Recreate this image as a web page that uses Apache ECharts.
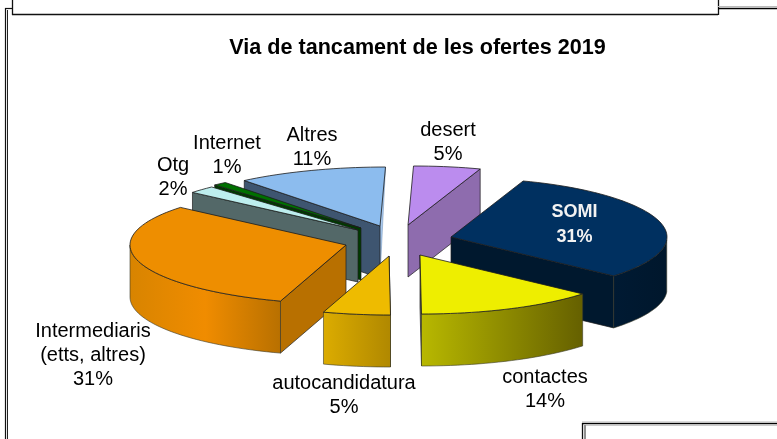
<!DOCTYPE html>
<html><head><meta charset="utf-8">
<style>html,body{margin:0;padding:0;background:#fff}#c{width:777px;height:439px}</style>
<script src="https://cdn.jsdelivr.net/npm/echarts@6/dist/echarts.min.js"></script>
</head><body><div id="c"></div>
<script>
// Data (clockwise from 12 o'clock)
const categories = ['desert','SOMI','contactes','autocandidatura','Intermediaris\n(etts, altres)','Otg','Internet','Altres'];
const shares = [5,31,14,5,31,2,1,11];

// Styling and layout, per slice
const apexes = [[408,225],[451,237],[420,255],[389,256],[346,245],[358,230],[361,228],[380,226]];
const topColors = ['#bb8cee','#003060','#eeee00','#eebb00','#ee8e00','#bdeeee','#007000','#8cbcee'];
const faceColors = ['#8e6cae','#00182e','#666','#a80','#b87000','#536868','#003a00','#3e5570'];
const rimStops = [
  ['#8e6cae','#8e6cae'],['#001a33','#00172c'],['#b8b800','#656000'],['#dcac00','#b08800'],
  ['#d88400','#f08c00','#b87000'],['#536868','#536868'],['#003a00','#003a00'],['#3e5570','#3e5570']];
const zOrder = [1,3,7,6,5,4,3,2];
const labelPos = [[448,142.5],[574.5,225],[545,389],[344,395],[93,355],[173,177],[227,155],[312,147]];
const RX = 216, RY = 59, DEPTH = 52;

const total = shares.reduce((a,b)=>a+b,0);
function pt(apex,deg){
  let t = deg*Math.PI/180;
  if(deg>0 && deg<180) t += (2.8*Math.pow(Math.sin(t),2))*Math.PI/180;
  const s = Math.sin(t), c = Math.cos(t);
  const tilt = (c>0?5.5:1.5)*Math.pow(c,4);
  return [apex[0]+RX*s+tilt, apex[1]-RY*c];
}
function arc(apex,from,to){
  const pts=[], n=Math.max(2,Math.ceil(Math.abs(to-from)/2));
  for(let i=0;i<=n;i++) pts.push(pt(apex,from+(to-from)*i/n));
  return pts;
}
const drop = p=>[p[0],p[1]+DEPTH];
const LINE = '#1c1c1c';

function renderItem(params,api){
  const i = params.dataIndex, v = api.value(0);
  let before = 0; for(let k=0;k<i;k++) before += shares[k];
  const a0 = before/total*360, a1 = (before+v)/total*360;
  const apex = apexes[i], z = zOrder[i]*10, kids=[];
  const poly=(points,fill,z2,lw,stroke)=>kids.push({type:'polygon',z2:z2,shape:{points},
    style:{fill,stroke:stroke||LINE,lineWidth:lw===undefined?0.7:lw,lineJoin:'round'}});
  const sideApex = drop(apex);
  if(a1<=180 && a1>0){ const o=pt(apex,a1); poly([apex,o,drop(o),sideApex],faceColors[i],z+1); }
  if(a0>=180){ const o=pt(apex,a0); poly([apex,o,drop(o),sideApex],faceColors[i],z+1); }
  if(a1>=359.9){ const o=pt(apex,a1); poly([o,apex,sideApex],'#a9c9ee',z,0.5,'#6d8fb5'); }
  const f=Math.max(a0,90), t=Math.min(a1,270);
  if(t>f){
    const top=arc(apex,f,t), bottom=top.map(drop).reverse();
    const stops=rimStops[i].map((c,n,arr)=>({offset:n/(arr.length-1),color:c}));
    poly(top.concat(bottom),{type:'linear',x:0,y:0,x2:1,y2:0,colorStops:stops},z+2,0.6,'#3a3a2a');
  }
  poly([apex].concat(arc(apex,a0,a1)),topColors[i],z+3,0.8);
  const white = categories[i]==='SOMI';
  kids.push({type:'text',z2:500,style:{
    text:categories[i]+'\n'+v+'%',x:labelPos[i][0],y:labelPos[i][1],
    align:'center',verticalAlign:'middle',lineHeight:white?25:24,
    font:(white?'bold 18px':'20px')+' "Liberation Sans", Arial, sans-serif',
    fill:white?'#f2f2f2':'#000'}});
  return {type:'group',children:kids};
}

function line(x1,y1,x2,y2,c,w){return {type:'line',silent:true,shape:{x1,y1,x2,y2},style:{stroke:c,lineWidth:w}};}
const frame=[
  line(5.5,8,5.5,439,'#111',1.2), line(7.5,10,7.5,439,'#222',1),
  line(5,8.5,12,8.5,'#111',1.2),
  line(12.5,0,12.5,15,'#111',1.3), line(12,14.5,718,14.5,'#111',1.6), line(718.5,0,718.5,15,'#111',1.3),
  line(718,8.5,777,8.5,'#000',1.6), line(718,6.5,777,6.5,'#bbb',1),
  line(582.5,423,582.5,439,'#111',1.3), line(585,425,585,439,'#222',1),
  line(582,423.5,777,423.5,'#000',1.4), line(582,421.8,777,421.8,'#ccc',1), line(586,425.5,777,425.5,'#ccc',1)
];

const chart=echarts.init(document.getElementById('c'),null,{renderer:'canvas'});
chart.setOption({
  animation:false,
  backgroundColor:'#fff',
  title:{text:'Via de tancament de les ofertes 2019',left:412.5,top:32,textAlign:'center',
    textStyle:{fontFamily:'"Liberation Sans", Arial, sans-serif',fontWeight:'bold',fontSize:21.6,color:'#000'}},
  graphic:{elements:frame},
  series:[{type:'custom',coordinateSystem:'none',renderItem:renderItem,
    data:shares.map((v,i)=>({name:categories[i],value:[v]}))}]
});
</script></body></html>
